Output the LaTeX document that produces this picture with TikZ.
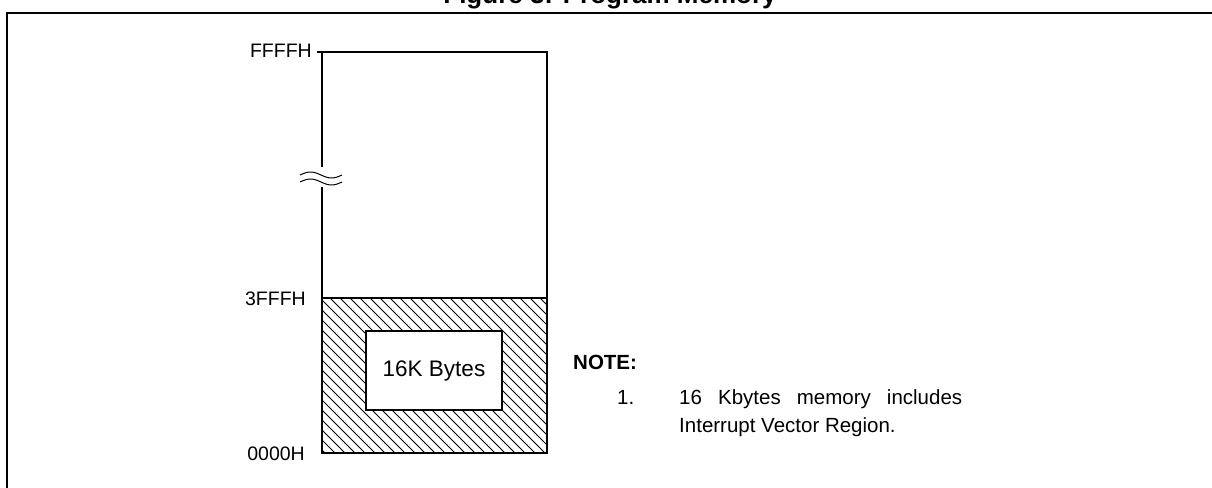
\documentclass[tikz,border=0pt]{standalone}
\usepackage{fontspec}
\setmainfont{Liberation Sans}
\begin{document}
\begin{tikzpicture}[x=1pt,y=-1pt,
  frame/.style={line width=2pt,line cap=rect},
  membox/.style={line width=1.2pt},
  hatch/.style={line width=0.8pt},
  addr/.style={anchor=east,inner sep=0pt,font=\fontsize{19.5}{22}\selectfont},
  notetext/.style={anchor=base west,inner sep=0pt,font=\fontsize{20.5}{24}\selectfont}]
  \useasboundingbox (0,0) rectangle (1212,487);
  \clip (0,0) rectangle (1212,487);

  % caption and outer frame
  \node[anchor=base,inner sep=0pt,font=\bfseries\fontsize{26}{30}\selectfont] (title) at (610,4) {Figure 3: Program Memory};
  \coordinate (ftl) at (7,13);
  \coordinate (ftr) at (1220,13);
  \coordinate (fbl) at (7,495);
  \draw[frame] (fbl) -- (ftl) -- (ftr);

  % memory map corners
  \coordinate (tl) at (322,52);
  \coordinate (tr) at (547,52);
  \coordinate (ml) at (322,298);
  \coordinate (mr) at (547,298);
  \coordinate (bl) at (322,453);
  \coordinate (br) at (547,453);
  \coordinate (tick) at (317,52);
  \coordinate (gapt) at (322,167);
  \coordinate (gapb) at (322,187);

  % hatched 16K region
  \begin{scope}
    \clip (ml) rectangle (br);
    \foreach \c in {160,170,...,560}
      \draw[hatch] (\c,298) -- (\c+160,458);
  \end{scope}
  \node[draw,line width=1.2pt,fill=white,minimum width=136pt,minimum height=79pt,inner sep=0pt,
        font=\fontsize{22.5}{26}\selectfont] (k16) at (434,370.5) {16K Bytes};

  % outline of the address space
  \draw[membox] (tick) -- (tr) -- (br) -- (bl) -- (gapb);
  \draw[membox] (gapt) -- (tl);
  \draw[membox] (ml) -- (mr);

  % break marks
  \draw[line width=1pt] plot[domain=0:42,samples=40] ({300+\x},{175-3*sin(\x*360/42)});
  \draw[line width=1pt] plot[domain=0:42,samples=40] ({300+\x},{182-3*sin(\x*360/42)});

  % addresses
  \node[addr] (aF) at (312,51) {FFFFH};
  \node[addr] (a3) at (306,299) {3FFFH};
  \node[addr] (a0) at (305,454) {0000H};

  % note
  \node[notetext,font=\bfseries\fontsize{20.5}{24}\selectfont] (note) at (573,369) {NOTE:};
  \node[notetext] (n1) at (617,404) {1.};
  \node[notetext] (n1a) at (679,404) {\makebox[283pt][s]{16 Kbytes memory includes}};
  \node[notetext] (n1b) at (679,432) {Interrupt Vector Region.};
\end{tikzpicture}
\end{document}
